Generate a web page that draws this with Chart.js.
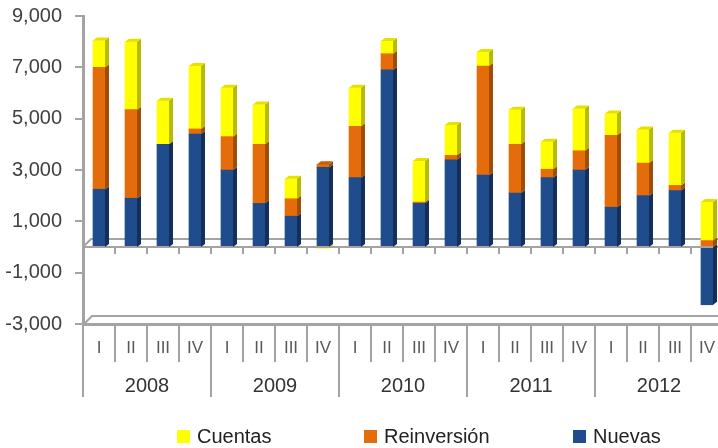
<!DOCTYPE html>
<html>
<head>
<meta charset="utf-8">
<script src="https://cdn.jsdelivr.net/npm/chart.js@4/dist/chart.umd.min.js"></script>
<style>
    html, body { margin: 0; padding: 0; background: #fff; overflow: hidden; }
    #wrap { width: 740px; height: 448px; }
</style>
</head>
<body>
<div id="wrap"><canvas id="chart" width="740" height="448"></canvas></div>
<script>
// Data
const years = ['2008', '2009', '2010', '2011', '2012'];
const quarters = ['I', 'II', 'III', 'IV', 'I', 'II', 'III', 'IV', 'I', 'II', 'III', 'IV',
                  'I', 'II', 'III', 'IV', 'I', 'II', 'III', 'IV'];
const nuevas = [2250, 1900, 4000, 4400, 3000, 1700, 1200, 3100, 2700, 6900,
                1700, 3400, 2800, 2100, 2700, 3000, 1550, 2000, 2200, -2250];
const reinversion = [4750, 3450, 0, 200, 1300, 2300, 680, 120, 2000, 630,
                     50, 170, 4250, 1900, 330, 750, 2800, 1270, 200, 250];
const cuentas = [1050, 2650, 1700, 2450, 1900, 1550, 780, -50, 1500, 500,
                 1600, 1180, 550, 1350, 1070, 1650, 850, 1310, 2050, 1500];
const yTicks = { min: -3000, max: 9000, step: 2000 };

const FONT = "'Liberation Sans', Arial, sans-serif";
const AXIS_GREY = '#a3a3a3';

// fake 3D: side faces + top caps on each bar
const depth = { dx: 4, dy: 3 };
const bars3d = {
    id: 'bars3d',
    afterDatasetsDraw(chart) {
        const ctx = chart.ctx;
        const sets = chart.data.datasets;
        ctx.save();
        sets.forEach((ds, di) => {
            chart.getDatasetMeta(di).data.forEach((bar, i) => {
                if (!ds.data[i]) return;
                const p = bar.getProps(['x', 'y', 'base', 'width'], true);
                const r = p.x + p.width / 2;
                const top = Math.min(p.y, p.base), bot = Math.max(p.y, p.base);
                ctx.fillStyle = ds.sideColor;
                ctx.beginPath();
                ctx.moveTo(r, top);
                ctx.lineTo(r + depth.dx, top - depth.dy);
                ctx.lineTo(r + depth.dx, bot - depth.dy);
                ctx.lineTo(r, bot);
                ctx.closePath();
                ctx.fill();
            });
        });
        // caps on the top positive segment
        quarters.forEach((q, i) => {
            for (let di = sets.length - 1; di >= 0; di--) {
                if (sets[di].data[i] > 0) {
                    const p = chart.getDatasetMeta(di).data[i].getProps(['x', 'y', 'width'], true);
                    const l = p.x - p.width / 2, r = p.x + p.width / 2;
                    ctx.fillStyle = sets[di].capColor;
                    ctx.beginPath();
                    ctx.moveTo(l, p.y);
                    ctx.lineTo(l + depth.dx, p.y - depth.dy);
                    ctx.lineTo(r + depth.dx, p.y - depth.dy);
                    ctx.lineTo(r, p.y);
                    ctx.closePath();
                    ctx.fill();
                    break;
                }
            }
        });
        ctx.restore();
    }
};

// floor slabs at zero and at the bottom
const floors = {
    id: 'floors',
    beforeDatasetsDraw(chart) {
        const { ctx, chartArea: a, scales } = chart;
        const y0 = scales.y.getPixelForValue(0);
        ctx.save();
        ctx.strokeStyle = AXIS_GREY;
        ctx.lineWidth = 2;
        // zero slab
        ctx.beginPath();
        ctx.moveTo(a.left, y0);
        ctx.lineTo(a.left + 8, y0 - 8);
        ctx.lineTo(a.right + 20, y0 - 8);
        ctx.stroke();
        // bottom slab
        ctx.beginPath();
        ctx.moveTo(a.left + 1, a.bottom);
        ctx.lineTo(a.left + 9, a.bottom - 8);
        ctx.lineTo(a.right + 20, a.bottom - 8);
        ctx.stroke();
        ctx.restore();
    },
    afterDatasetsDraw(chart) {
        const { ctx, chartArea: a, scales } = chart;
        const y0 = scales.y.getPixelForValue(0);
        ctx.save();
        ctx.strokeStyle = AXIS_GREY;
        ctx.lineWidth = 2;
        ctx.beginPath();
        ctx.moveTo(a.left, y0);
        ctx.lineTo(a.right + 20, y0);
        // little ticks under the zero floor
        for (let i = 1; i < quarters.length; i++) {
            const xb = (scales.x.getPixelForValue(i - 1) + scales.x.getPixelForValue(i)) / 2;
            ctx.moveTo(xb, y0 + 1);
            ctx.lineTo(xb, y0 + 7);
        }
        ctx.stroke();
        ctx.restore();
    }
};

// legend drawn along the bottom
const legendItems = [
    { label: 'Cuentas', x: 177 },
    { label: 'Reinversión', x: 364 },
    { label: 'Nuevas', x: 573 }
];
const bottomLegend = {
    id: 'bottomLegend',
    afterDraw(chart) {
        const ctx = chart.ctx;
        ctx.save();
        ctx.font = '20px ' + FONT;
        ctx.textBaseline = 'middle';
        legendItems.forEach(it => {
            const ds = chart.data.datasets.find(d => d.label === it.label);
            ctx.fillStyle = ds.backgroundColor;
            ctx.fillRect(it.x, 430, 13, 13);
            ctx.fillStyle = '#222';
            ctx.fillText(it.label, it.x + 20, 437);
        });
        ctx.restore();
    }
};

new Chart(document.getElementById('chart'), {
    type: 'bar',
    data: {
        labels: quarters,
        datasets: [
            { label: 'Nuevas', data: nuevas, backgroundColor: '#214c8c', sideColor: '#142f59', capColor: '#1a3e74' },
            { label: 'Reinversión', data: reinversion, backgroundColor: '#e46c0a', sideColor: '#a24d06', capColor: '#c75e08' },
            { label: 'Cuentas', data: cuentas, backgroundColor: '#ffff00', sideColor: '#b9b900', capColor: '#e2e200' }
        ]
    },
    options: {
        responsive: false,
        animation: false,
        devicePixelRatio: 1,
        layout: { padding: { top: 16, right: 17, left: 0, bottom: 48 } },
        datasets: { bar: { barThickness: 12, borderWidth: 0 } },
        plugins: {
            legend: { display: false },
            tooltip: { enabled: false }
        },
        scales: {
            x: {
                stacked: true,
                offset: true,
                afterFit: s => { s.height = 36; },
                border: { display: true, color: AXIS_GREY, width: 3 },
                grid: { offset: true, drawOnChartArea: false, drawTicks: true, tickLength: 38, color: AXIS_GREY, lineWidth: 2 },
                ticks: { color: '#595959', font: { family: FONT, size: 17 }, padding: -24, maxRotation: 0, autoSkip: false }
            },
            x2: {
                type: 'category',
                position: 'bottom',
                labels: years,
                offset: true,
                afterFit: s => { s.height = 40; },
                border: { display: false },
                grid: { offset: true, drawOnChartArea: false, drawTicks: true, tickLength: 37, color: AXIS_GREY, lineWidth: 2 },
                ticks: { color: '#333', font: { family: FONT, size: 20 }, padding: -23, maxRotation: 0 }
            },
            y: {
                stacked: true,
                min: yTicks.min,
                max: yTicks.max,
                afterFit: s => { s.width = 83; s.paddingTop = 0; s.paddingBottom = 0; },
                border: { display: true, color: AXIS_GREY, width: 3 },
                grid: { drawOnChartArea: false, drawTicks: true, tickLength: 8, color: AXIS_GREY, lineWidth: 2 },
                ticks: {
                    stepSize: yTicks.step,
                    color: '#404040',
                    padding: 13,
                    font: { family: FONT, size: 20 },
                    callback: v => v.toLocaleString('en-US')
                }
            }
        }
    },
    plugins: [floors, bars3d, bottomLegend]
});
</script>
</body>
</html>
